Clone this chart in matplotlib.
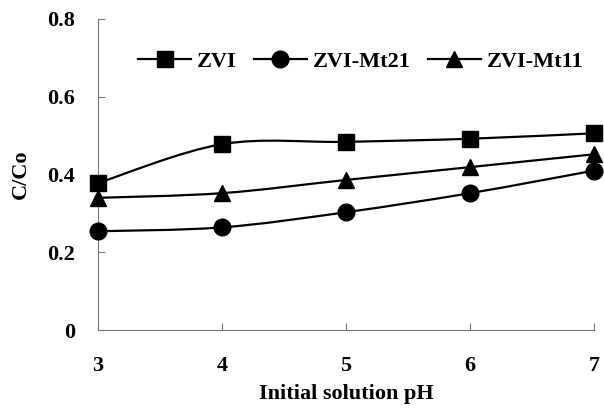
import numpy as np
import matplotlib.pyplot as plt
from matplotlib.path import Path
from matplotlib.patches import PathPatch
from matplotlib.lines import Line2D

plt.rcParams['font.family'] = ['Liberation Serif', 'DejaVu Serif']
plt.rcParams['font.weight'] = 'bold'

ph = [3, 4, 5, 6, 7]
zvi = [0.378, 0.478, 0.484, 0.492, 0.506]
zvi_mt21 = [0.254, 0.264, 0.303, 0.352, 0.410]
zvi_mt11 = [0.340, 0.352, 0.386, 0.419, 0.452]

series = [
    ('ZVI', zvi, 's', 11),
    ('ZVI-Mt21', zvi_mt21, 'o', 12),
    ('ZVI-Mt11', zvi_mt11, '^', 12),
]


def smooth_path(x, y, t=1/6.):
    # excel-like smoothed line: cubic bezier through each point
    x = np.asarray(x, float)
    y = np.asarray(y, float)
    verts = [(x[0], y[0])]
    codes = [Path.MOVETO]
    n = len(x)
    for i in range(n - 1):
        x0, y0 = (x[i - 1], y[i - 1]) if i > 0 else (x[i], y[i])
        x3, y3 = (x[i + 2], y[i + 2]) if i + 2 < n else (x[i + 1], y[i + 1])
        c1 = (x[i] + t * (x[i + 1] - x0), y[i] + t * (y[i + 1] - y0))
        c2 = (x[i + 1] - t * (x3 - x[i]), y[i + 1] - t * (y3 - y[i]))
        verts += [c1, c2, (x[i + 1], y[i + 1])]
        codes += [Path.CURVE4] * 3
    return Path(verts, codes)


fig = plt.figure(figsize=(6.04, 4.12), dpi=100)
ax = fig.add_axes([98 / 604, 1 - 330 / 412, 496 / 604, 311 / 412])

handles = []
for name, vals, mk, ms in series:
    ax.add_patch(PathPatch(smooth_path(ph, vals), fill=False, lw=1.6,
                           edgecolor='black', zorder=2))
    ax.plot(ph, vals, ls='none', marker=mk, ms=ms, color='black',
            clip_on=False, zorder=3)
    handles.append(Line2D([], [], color='black', lw=1.6, marker=mk, ms=ms))

ax.set_xlim(3, 7)
ax.set_ylim(0, 0.8)
ax.set_xticks(ph)
ax.set_yticks([0, 0.2, 0.4, 0.6, 0.8])
ax.set_yticklabels(['0', '0.2', '0.4', '0.6', '0.8'])

for s in ['top', 'right']:
    ax.spines[s].set_visible(False)
for s in ['left', 'bottom']:
    ax.spines[s].set_color('#777777')
    ax.spines[s].set_linewidth(0.8)

ax.tick_params(axis='both', direction='in', length=5, color='#777777',
               labelsize=16)
ax.tick_params(axis='y', pad=16.5)
ax.tick_params(axis='x', pad=19)

ax.set_xlabel('Initial solution pH', fontsize=16, fontweight='bold')
ax.set_ylabel('C/Co', fontsize=16, fontweight='bold')
ax.xaxis.set_label_coords(0.5, -0.175)
ax.yaxis.set_label_coords(-0.135, 0.5)

fig.legend(handles, [s[0] for s in series], loc='center left',
           bbox_to_anchor=(138 / 604, 1 - 62 / 412), ncol=3, frameon=False,
           fontsize=16, handlelength=2.4, columnspacing=0.75,
           handletextpad=0.27, borderpad=0, borderaxespad=0)

fig.savefig('out.png', dpi=100)
